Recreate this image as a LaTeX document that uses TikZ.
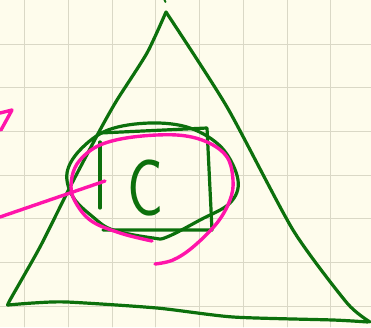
\documentclass[tikz,border=0pt]{standalone}
\usepackage{tikz}

\definecolor{paper}{RGB}{254,252,236}
\definecolor{gridline}{RGB}{218,216,198}
\definecolor{pen}{RGB}{12,112,12}
\definecolor{marker}{RGB}{255,20,170}

\begin{document}
\begin{tikzpicture}[x=1pt, y=-1pt, line cap=round, line join=round, greenpen/.style={draw=pen, line width=3.2pt}, pinkpen/.style={draw=marker, line width=3.4pt}]
	\fill[paper] (0,0) rectangle (371,327);
	\useasboundingbox (0,0) rectangle (371,327);
	\foreach \k in {0,...,7} {
		\draw[gridline, line width=0.9pt] (24.8+43.7*\k,0) -- (24.8+43.7*\k,327);
	}
	\foreach \k in {0,...,6} {
		\draw[gridline, line width=0.9pt] (0,44+43.7*\k) -- (371,44+43.7*\k);
	}
	% triangle
	\draw[greenpen] plot[smooth, tension=0.4] coordinates {(166,12) (147,53) (117,100) (100,130) (70,187) (40,247) (10,300) (8,305)};
	\draw[greenpen] plot[smooth, tension=0.4] coordinates {(8,305) (33,303) (67,302) (157,308) (233,317) (333,320) (368,322)};
	\draw[greenpen] plot[smooth, tension=0.4] coordinates {(166,12) (227,107) (293,230) (347,303) (370,322)};
	\draw[greenpen, line width=2pt] (164.5,0) -- (165.5,2);
	% circle and square round the letter
	\draw[greenpen] plot[smooth cycle, tension=0.6] coordinates {(150,123) (190,128) (222,148) (238,180) (230,203) (200,220) (167,237) (153,238) (113,230) (93,217) (73,197) (67,173) (80,150) (108,130)};
	\draw[greenpen] (100,133) -- (207,128) -- (212,230) -- (103,230);
	\draw[greenpen] (100,142) -- (100,208);
	\node[text=pen, font=\sffamily\fontsize{80}{80}\selectfont, xscale=0.75, inner sep=0pt] (letter) at (146,188) {C};
	% marker
	\draw[pinkpen] plot[smooth, tension=0.6] coordinates {(152,241) (120,233) (90,220) (73,197) (72,177) (80,160) (100,145) (133,137) (177,135) (207,142) (227,157) (233,180) (230,200) (217,223) (193,247) (173,260) (155,264)};
	\draw[pinkpen] (0,217) -- (105,181);
	\draw[pinkpen] (0,113) -- (12,110) -- (1,130);
\end{tikzpicture}
\end{document}
